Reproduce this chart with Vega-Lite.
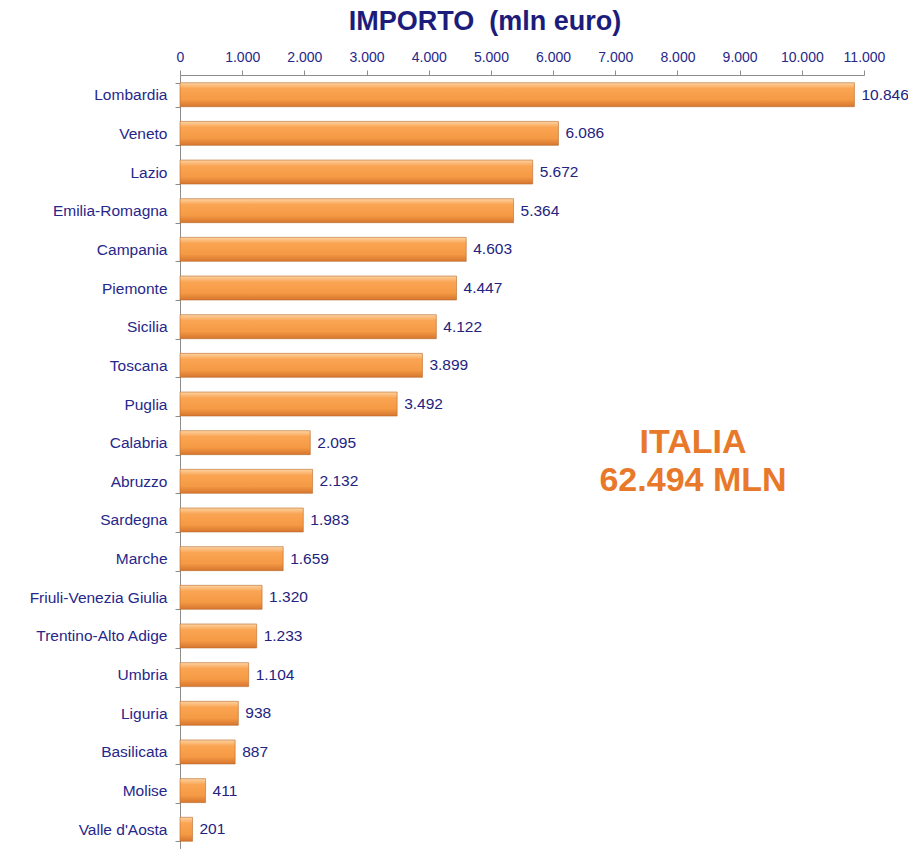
{
  "$schema": "https://vega.github.io/schema/vega-lite/v6.json",
  "width": 684,
  "height": 774,
  "autosize": {"type": "none"},
  "padding": {"left": 180, "top": 75, "right": 44, "bottom": 0},
  "title": {
    "text": "IMPORTO\u00a0\u00a0(mln euro)",
    "font": "Liberation Sans",
    "fontSize": 27,
    "fontWeight": "bold",
    "color": "#1c1c7a",
    "anchor": "middle",
    "dx": -37,
    "offset": 14
  },
  "config": {
    "view": {"stroke": null},
    "locale": {"number": {"decimal": ",", "thousands": ".", "grouping": [3], "currency": ["€", ""]}},
    "font": "Liberation Sans"
  },
  "layer": [
    {
      "data": {"values": [
        {"region": "Lombardia", "value": 10846},
        {"region": "Veneto", "value": 6086},
        {"region": "Lazio", "value": 5672},
        {"region": "Emilia-Romagna", "value": 5364},
        {"region": "Campania", "value": 4603},
        {"region": "Piemonte", "value": 4447},
        {"region": "Sicilia", "value": 4122},
        {"region": "Toscana", "value": 3899},
        {"region": "Puglia", "value": 3492},
        {"region": "Calabria", "value": 2095},
        {"region": "Abruzzo", "value": 2132},
        {"region": "Sardegna", "value": 1983},
        {"region": "Marche", "value": 1659},
        {"region": "Friuli-Venezia Giulia", "value": 1320},
        {"region": "Trentino-Alto Adige", "value": 1233},
        {"region": "Umbria", "value": 1104},
        {"region": "Liguria", "value": 938},
        {"region": "Basilicata", "value": 887},
        {"region": "Molise", "value": 411},
        {"region": "Valle d'Aosta", "value": 201}
      ]},
      "encoding": {
        "y": {
          "field": "region",
          "type": "nominal",
          "sort": null,
          "scale": {"paddingInner": 0.38, "paddingOuter": 0.2},
          "axis": {
            "title": null,
            "tickBand": "extent",
            "domainColor": "#8c8c8c",
            "tickColor": "#8c8c8c",
            "tickSize": 5,
            "labelPadding": 8,
            "labelFontSize": 15.5,
            "labelColor": "#27278a",
            "labelFont": "Liberation Sans"
          }
        },
        "x": {
          "field": "value",
          "type": "quantitative",
          "scale": {"domain": [0, 11000], "nice": false},
          "axis": {
            "orient": "top",
            "title": null,
            "values": [0, 1000, 2000, 3000, 4000, 5000, 6000, 7000, 8000, 9000, 10000, 11000],
            "format": ",d",
            "labelOverlap": false,
            "labelFlush": false,
            "grid": false,
            "domainColor": "#8c8c8c",
            "tickColor": "#8c8c8c",
            "tickSize": 5,
            "labelPadding": 6,
            "labelFontSize": 14,
            "labelColor": "#27278a",
            "labelFont": "Liberation Sans"
          }
        }
      },
      "layer": [
        {
          "mark": {
            "type": "bar",
            "stroke": "#b8692a",
            "strokeWidth": 0.6,
            "color": {
              "gradient": "linear",
              "x1": 0, "y1": 0, "x2": 0, "y2": 1,
              "stops": [
                {"offset": 0, "color": "#fdd3a2"},
                {"offset": 0.25, "color": "#faa452"},
                {"offset": 0.7, "color": "#f59a45"},
                {"offset": 1, "color": "#d6762f"}
              ]
            }
          }
        },
        {
          "mark": {
            "type": "text",
            "align": "left",
            "baseline": "middle",
            "dx": 7,
            "fontSize": 15.5,
            "color": "#23237f",
            "font": "Liberation Sans"
          },
          "encoding": {
            "text": {"field": "value", "type": "quantitative", "format": ",d"}
          }
        }
      ]
    },
    {
      "data": {"values": [
        {"region": "Calabria", "label": "ITALIA"},
        {"region": "Abruzzo", "label": "62.494 MLN"}
      ]},
      "mark": {
        "type": "text",
        "align": "center",
        "baseline": "middle",
        "fontSize": 34,
        "fontWeight": "bold",
        "color": "#e8792b",
        "font": "Liberation Sans"
      },
      "encoding": {
        "y": {"field": "region", "type": "nominal", "sort": null},
        "x": {"datum": 8250, "type": "quantitative"},
        "text": {"field": "label", "type": "nominal"}
      }
    }
  ]
}
